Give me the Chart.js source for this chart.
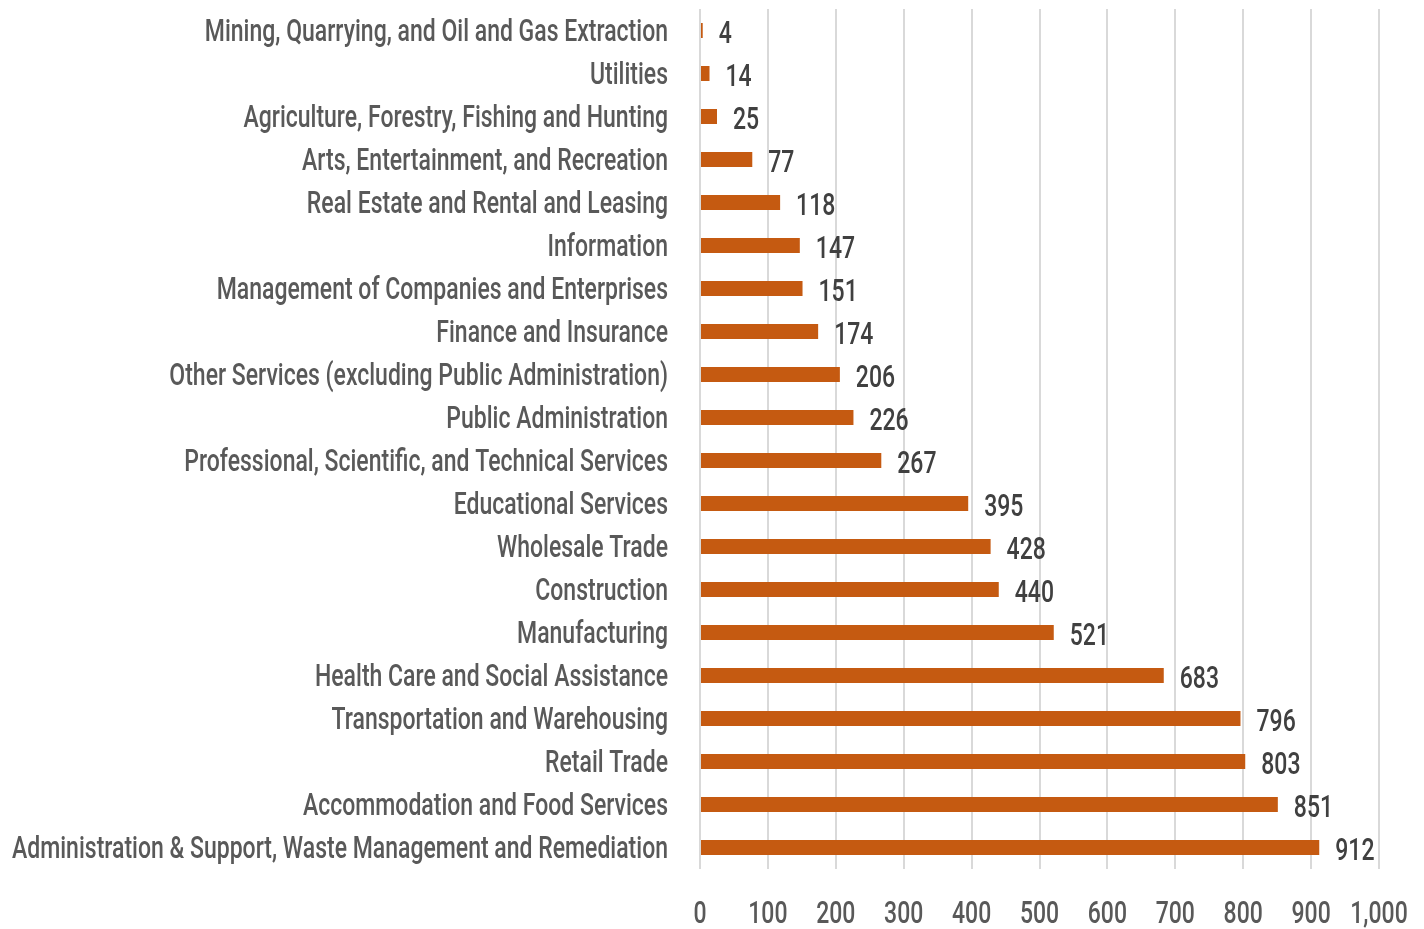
<!DOCTYPE html>
<html><head><meta charset="utf-8">
<script src="https://cdn.jsdelivr.net/npm/chart.js@4/dist/chart.umd.min.js"></script>
<style>html,body{margin:0;padding:0;background:#fff;}#c{display:block;}</style>
</head><body>
<canvas id="c" width="1424" height="929"></canvas>
<script>
const categories = [
  "Mining, Quarrying, and Oil and Gas Extraction",
  "Utilities",
  "Agriculture, Forestry, Fishing and Hunting",
  "Arts, Entertainment, and Recreation",
  "Real Estate and Rental and Leasing",
  "Information",
  "Management of Companies and Enterprises",
  "Finance and Insurance",
  "Other Services (excluding Public Administration)",
  "Public Administration",
  "Professional, Scientific, and Technical Services",
  "Educational Services",
  "Wholesale Trade",
  "Construction",
  "Manufacturing",
  "Health Care and Social Assistance",
  "Transportation and Warehousing",
  "Retail Trade",
  "Accommodation and Food Services",
  "Administration & Support, Waste Management and Remediation"
];
const values = [4,14,25,77,118,147,151,174,206,226,267,395,428,440,521,683,796,803,851,912];
const xTicks = [0,100,200,300,400,500,600,700,800,900,1000];

const FONT = "500 31px Roboto, 'DejaVu Sans', sans-serif";
let SX = 0.73;

function drawSqueezed(ctx, text, x, y, align, color) {
  ctx.save();
  ctx.translate(x, y);
  ctx.scale(SX, 1);
  ctx.font = FONT;
  ctx.fillStyle = color;
  ctx.textAlign = align;
  ctx.textBaseline = 'alphabetic';
  ctx.fillText(text, 0, 0);
  ctx.restore();
}

const textPlugin = {
  id: 'textPlugin',
  beforeDraw(chart) {
    const ctx = chart.ctx;
    ctx.save();
    ctx.font = FONT;
    const w = ctx.measureText(categories[categories.length - 1]).width;
    ctx.restore();
    if (w > 0) SX = 656 / w;
  },
  afterDatasetsDraw(chart) {
    const ctx = chart.ctx;
    const meta = chart.getDatasetMeta(0);
    const xs = chart.scales.x;
    const ys = chart.scales.y;
    categories.forEach((c, i) => {
      const y = ys.getPixelForValue(i);
      drawSqueezed(ctx, c, 668, y + 10.5, 'right', '#595959');
    });
    meta.data.forEach((bar, i) => {
      drawSqueezed(ctx, String(values[i]), bar.x + 16, bar.y + 12.5, 'left', '#404040');
    });
    xTicks.forEach(v => {
      drawSqueezed(ctx, v.toLocaleString('en-US'), xs.getPixelForValue(v), 923, 'center', '#595959');
    });
  }
};

new Chart(document.getElementById('c'), {
  type: 'bar',
  data: {
    labels: categories,
    datasets: [{
      data: values,
      backgroundColor: '#C55A11',
      borderWidth: 0,
      barPercentage: 0.35,
      categoryPercentage: 1.0
    }]
  },
  options: {
    indexAxis: 'y',
    responsive: false,
    animation: false,
    layout: { padding: { top: 9, right: 45, bottom: 0, left: 0 } },
    plugins: { legend: { display: false }, tooltip: { enabled: false } },
    scales: {
      x: {
        min: 0, max: 1000,
        afterBuildTicks(scale) { scale.ticks = xTicks.map(v => ({ value: v })); },
        afterFit(scale) { scale.height = 60; },
        grid: { color: '#d9d9d9', lineWidth: 2, drawTicks: false },
        border: { display: false },
        ticks: { display: false }
      },
      y: {
        afterFit(scale) { scale.width = 700; },
        grid: { display: false },
        border: { display: false },
        ticks: { display: false }
      }
    }
  },
  plugins: [textPlugin]
});
</script>
</body></html>
